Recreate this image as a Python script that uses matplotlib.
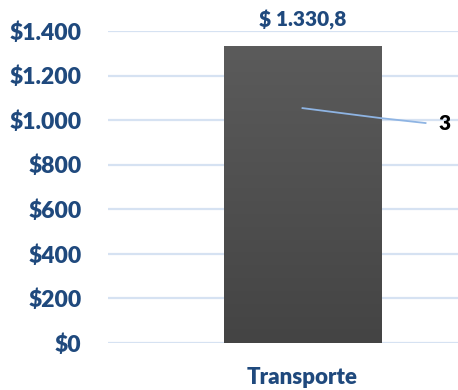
import numpy as np
import matplotlib.pyplot as plt
from matplotlib.colors import LinearSegmentedColormap

categories = ["Transporte"]
values = [1330.8]
value_labels = ["$ 1.330,8"]
second_label = "3"
second_value = 987
y_ticks = [0, 200, 400, 600, 800, 1000, 1200, 1400]

navy = "#1f497d"
plt.rcParams["font.family"] = ["Lato", "DejaVu Sans"]
plt.rcParams["font.weight"] = "bold"

fig = plt.figure(figsize=(4.58, 3.9), dpi=100)
ax = fig.add_axes([108 / 458, 47 / 390, 350 / 458, 312 / 390])

width = 0.6
x = np.arange(len(categories))
bars = ax.bar(x, values, width=width, color="#505050", zorder=3)

# vertical gradient on the bar
grad = LinearSegmentedColormap.from_list("g", ["#444444", "#5b5b5b"])
for b in bars:
    img = ax.imshow(np.linspace(0, 1, 256).reshape(-1, 1), cmap=grad,
                    origin="lower", aspect="auto", zorder=4,
                    extent=[b.get_x(), b.get_x() + b.get_width(), 0, b.get_height()])
    img.set_clip_path(b)

for xi, v, lab in zip(x, values, value_labels):
    ax.text(xi, v + 75, lab, ha="center", va="bottom", color=navy,
            fontsize=15, fontweight="heavy", zorder=5, clip_on=False)

# leader line to the second label
ax.plot([0.0, 0.3, 0.47], [1054, 1009, second_value], color="#8eb4e3",
        lw=1.3, zorder=6, clip_on=False)
ax.text(0.52, second_value, second_label, ha="left", va="center",
        color="black", fontsize=15, fontweight="heavy", clip_on=False)

ax.set_xlim(-0.743, 0.594)
ax.set_ylim(0, 1400)
ax.set_yticks(y_ticks)
ax.set_yticklabels(["$" + f"{t:,}".replace(",", ".") for t in y_ticks])
ax.set_xticks(x)
ax.set_xticklabels(categories, fontweight="heavy")
for t in ax.get_yticklabels():
    t.set_fontweight("heavy")
ax.tick_params(axis="y", length=0, pad=19, labelsize=16.5, labelcolor=navy)
ax.tick_params(axis="x", length=0, pad=17, labelsize=16, labelcolor=navy)
ax.yaxis.grid(True, color="#d6e2f2", lw=1.6, zorder=0)
ax.set_axisbelow(True)
for s in ax.spines.values():
    s.set_visible(False)

fig.savefig("out.png", dpi=100)
